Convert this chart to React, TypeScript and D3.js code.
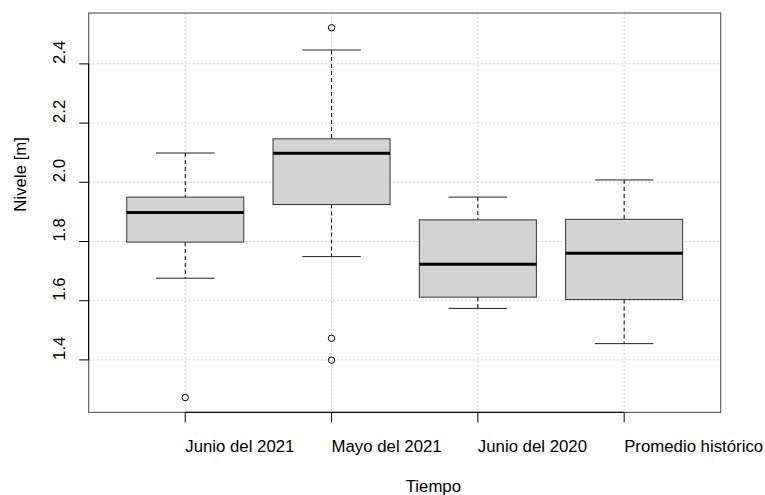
import React from "react";
import * as d3 from "d3";

const categories = ["Junio del 2021", "Mayo del 2021", "Junio del 2020", "Promedio histórico"];
const lowerWhisker = [1.676, 1.749, 1.574, 1.455];
const q1 = [1.798, 1.925, 1.612, 1.604];
const median = [1.898, 2.098, 1.723, 1.76];
const q3 = [1.95, 2.147, 1.873, 1.875];
const upperWhisker = [2.099, 2.447, 1.95, 2.008];
const outliers: number[][] = [[1.273], [2.522, 1.473, 1.399], [], []];
const yTicks = [1.4, 1.6, 1.8, 2.0, 2.2, 2.4];
const yTickLabels = ["1.4", "1.6", "1.8", "2.0", "2.2", "2.4"];
const xTitle = "Tiempo";
const yTitle = "Nivele [m]";

const W = 765;
const H = 495;
const L = 88.7, R = 720.7, T = 13, B = 412.3;

export default function App() {
  const all = [...lowerWhisker, ...upperWhisker, ...outliers.flat()];
  const lo = d3.min(all)!, hi = d3.max(all)!;
  const pad = (hi - lo) * 0.04;
  const y = d3.scaleLinear().domain([lo - pad, hi + pad]).range([B, T]);
  const x = d3.scaleLinear().domain([0.34, 4.66]).range([L, R]);
  const unit = x(2) - x(1);
  const boxW = unit * 0.8;
  const capW = unit * 0.4;
  const font = "'Liberation Sans', Arial, Helvetica, sans-serif";
  const grid = "#d3d3d3";
  const fs = 16.8;

  return (
    <div style={{ position: "fixed", left: 0, top: 0 }}>
      <svg width={W} height={H} style={{ display: "block", background: "#fff" }} fontFamily={font}>
        {/* grid */}
        {yTicks.map((t, i) => (
          <line key={"gy" + i} x1={L} x2={R} y1={y(t)} y2={y(t)} stroke={grid} strokeWidth={1} strokeDasharray="2,2" />
        ))}
        {categories.map((c, i) => (
          <line key={"gx" + i} x1={x(i + 1)} x2={x(i + 1)} y1={T} y2={B} stroke={grid} strokeWidth={1} strokeDasharray="2,2" />
        ))}
        {/* boxes */}
        {categories.map((c, i) => {
          const cx = x(i + 1);
          return (
            <g key={"b" + i}>
              <line x1={cx} x2={cx} y1={y(upperWhisker[i])} y2={y(q3[i])} stroke="#000" strokeWidth={1} strokeDasharray="4,3" />
              <line x1={cx} x2={cx} y1={y(q1[i])} y2={y(lowerWhisker[i])} stroke="#000" strokeWidth={1} strokeDasharray="4,3" />
              <line x1={cx - capW / 2} x2={cx + capW / 2} y1={y(upperWhisker[i])} y2={y(upperWhisker[i])} stroke="#222" strokeWidth={1} />
              <line x1={cx - capW / 2} x2={cx + capW / 2} y1={y(lowerWhisker[i])} y2={y(lowerWhisker[i])} stroke="#222" strokeWidth={1} />
              <rect x={cx - boxW / 2} y={y(q3[i])} width={boxW} height={y(q1[i]) - y(q3[i])} fill="#d3d3d3" stroke="#333" strokeWidth={1} />
              <line x1={cx - boxW / 2} x2={cx + boxW / 2} y1={y(median[i])} y2={y(median[i])} stroke="#000" strokeWidth={3} />
              {outliers[i].map((o, j) => (
                <circle key={j} cx={cx} cy={y(o)} r={3.2} fill="none" stroke="#000" strokeWidth={1} />
              ))}
            </g>
          );
        })}
        {/* frame */}
        <rect x={L} y={T} width={R - L} height={B - T} fill="none" stroke="#444" strokeWidth={1} />
        {/* y axis */}
        <line x1={L} x2={L} y1={y(yTicks[0])} y2={y(yTicks[yTicks.length - 1])} stroke="#000" strokeWidth={1} />
        {yTicks.map((t, i) => (
          <g key={"yt" + i}>
            <line x1={L - 9.5} x2={L} y1={y(t)} y2={y(t)} stroke="#000" strokeWidth={1} />
            <text transform={`translate(65,${y(t)}) rotate(-90)`} fontSize={fs} fill="#000" textAnchor="start">
              {yTickLabels[i]}
            </text>
          </g>
        ))}
        {/* x axis */}
        <line x1={x(1)} x2={x(categories.length)} y1={B} y2={B} stroke="#000" strokeWidth={1} />
        {categories.map((c, i) => (
          <g key={"xt" + i}>
            <line x1={x(i + 1)} x2={x(i + 1)} y1={B} y2={B + 10} stroke="#000" strokeWidth={1} />
            <text x={x(i + 1)} y={451.5} fontSize={fs} fill="#000" textAnchor="start">
              {c}
            </text>
          </g>
        ))}
        {/* titles */}
        <text x={(L + R) / 2 + 1} y={492} fontSize={fs} fill="#000" textAnchor="start">{xTitle}</text>
        <text transform={`translate(26,${(T + B) / 2 - 1}) rotate(-90)`} fontSize={fs} fill="#000" textAnchor="start">
          {yTitle}
        </text>
      </svg>
    </div>
  );
}
